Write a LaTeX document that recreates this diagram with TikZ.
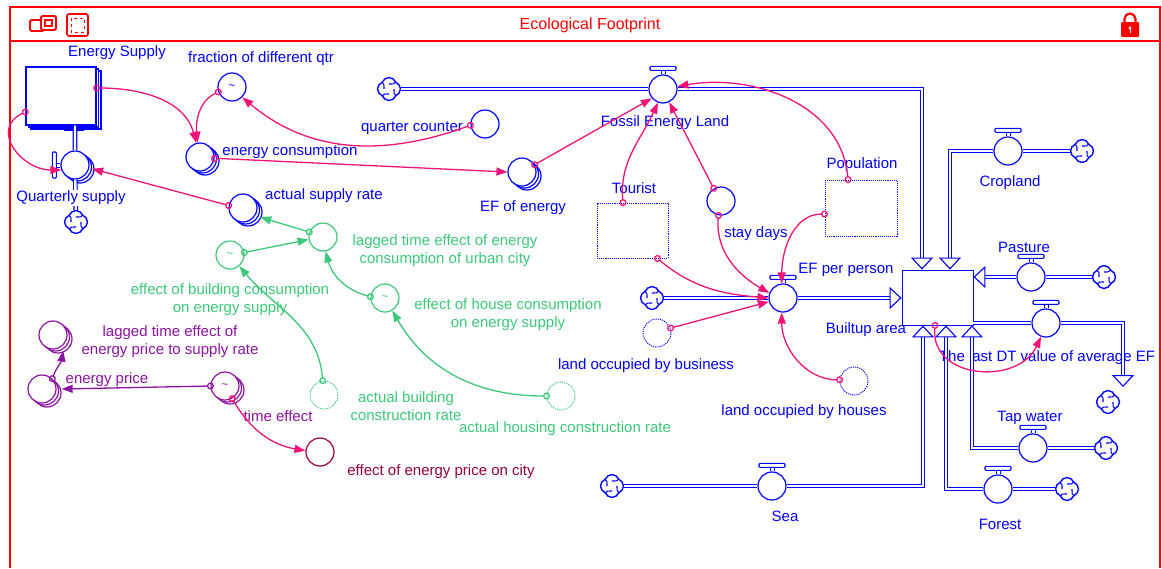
\documentclass[tikz,border=0pt]{standalone}
\usepackage{fontspec}
\setmainfont{Liberation Sans}
\usetikzlibrary{positioning}
\usetikzlibrary{shapes.symbols}
\usetikzlibrary{shadows}
\usetikzlibrary{arrows.meta}

\definecolor{flowblue}{RGB}{0,0,255}
\definecolor{linkpink}{RGB}{240,20,120}
\definecolor{auxgreen}{RGB}{60,200,120}
\definecolor{auxpurple}{RGB}{140,20,160}
\definecolor{auxmaroon}{RGB}{150,0,60}
\definecolor{framered}{RGB}{255,0,0}

\tikzset{
	lbl/.style={font=\fontsize{15}{18}\selectfont, inner sep=0pt, align=center},
	aux/.style={circle, fill=white, line width=1.2pt, minimum size=28pt, inner sep=0pt, font=\large},
	arrayed/.style={double copy shadow={shadow xshift=2.5pt, shadow yshift=-2pt}},
	ghost/.style={densely dotted, line width=0.9pt},
	stock/.style={rectangle, draw=flowblue, fill=white, line width=1.1pt, inner sep=0pt},
	sink/.style={cloud, cloud puffs=4, cloud puff arc=140, aspect=1, draw=flowblue, fill=white,
		line width=1.4pt, minimum width=23pt, minimum height=23pt, inner sep=0pt,
		path picture={\foreach \a in {45,135,225,315}
			\draw[flowblue, line width=1.1pt] ([shift={(\a:11pt)}]path picture bounding box.center)
				to[bend left=35] ([shift={({\a+45}:5pt)}]path picture bounding box.center);}},
	valve/.style={aux, draw=flowblue, append after command={\pgfextra{%
		\draw[flowblue, line width=1pt]
			([xshift=-2pt]\tikzlastnode.north) -- ++(0pt,4pt)
			([xshift=2pt]\tikzlastnode.north) -- ++(0pt,4pt);
		\draw[flowblue, line width=1.1pt, fill=white, rounded corners=1pt]
			([xshift=-13pt,yshift=4pt]\tikzlastnode.north) rectangle ++(26pt,4pt);}}},
	valve left/.style={aux, draw=flowblue, append after command={\pgfextra{%
		\draw[flowblue, line width=1pt]
			([yshift=-2pt]\tikzlastnode.west) -- ++(-4pt,0pt)
			([yshift=2pt]\tikzlastnode.west) -- ++(-4pt,0pt);
		\draw[flowblue, line width=1.1pt, fill=white, rounded corners=1pt]
			([xshift=-8pt,yshift=-13pt]\tikzlastnode.west) rectangle ++(4pt,26pt);}}},
	pipe/.style={draw=flowblue, double=white, double distance=2.4pt, line width=1.1pt},
	pipeend/.style={-{Triangle[open,width=22pt,length=12pt,line width=1.1pt]}},
	link/.style={line width=1.3pt, arrows={Circle[open,length=7pt]-Triangle[length=11pt,width=8pt]}, shorten <=-3.5pt},
	pinklink/.style={link, color=linkpink},
	greenlink/.style={link, color=auxgreen},
	purplelink/.style={link, color=auxpurple}
}

\begin{document}
\begin{tikzpicture}[x=1pt,y=1pt]
	\useasboundingbox (0,0) rectangle (1162,-568);
	% window frame
	\draw[framered, line width=2.2pt] (10,-568) -- (10,-7) -- (1160,-7) -- (1160,-568);
	\draw[framered, line width=2pt] (10,-41) -- (1160,-41);
	\node[text=framered, font=\fontsize{16}{18}\selectfont] (title) at (590,-25) {Ecological Footprint};
	\draw[framered, line width=1.8pt, rounded corners=1.5pt] (30,-20) rectangle (44,-31);
	\draw[framered, line width=1.8pt, rounded corners=1.5pt, fill=white] (41,-16) rectangle (56,-30);
	\draw[framered, line width=1.2pt] (45,-20) rectangle (52,-26);
	\draw[framered, line width=1.6pt, rounded corners=2pt] (67,-14) rectangle (88,-36);
	\draw[framered, line width=1pt, dashed] (71,-18) rectangle (84,-32);
	\fill[framered, rounded corners=1pt] (1121,-22) rectangle (1139,-37);
	\draw[framered, line width=2.2pt] (1124.5,-23) -- (1124.5,-19) arc[start angle=180, end angle=0, radius=5.5pt] -- (1135.5,-23);
	\fill[white] (1130,-28) circle (1.6pt);
	\draw[white, line width=1pt] (1130,-28) -- (1130,-33);

	% stocks
	\node[stock, arrayed, line width=1.4pt, minimum width=70pt, minimum height=58pt] (EnSup) at (61,-96) {};
	\node[stock, line width=0.8pt, minimum width=71pt, minimum height=55pt] (Built) at (937.5,-297.5) {};
	\node[stock, ghost, minimum width=71pt, minimum height=55pt] (Tourist) at (632.5,-230.5) {};
	\node[stock, ghost, minimum width=72pt, minimum height=56pt] (Pop) at (861,-208) {};
	\draw[flowblue, line width=2pt] (64,-130) -- (84,-130);

	% flows
	\node[valve left, arrayed] (QSup) at (75,-165) {};
	\node[valve] (FEL) at (663,-89) {};
	\node[valve] (EFpp) at (783,-298) {};
	\node[valve] (Crop) at (1008,-151) {};
	\node[valve] (Past) at (1031,-277) {};
	\node[valve] (LastDT) at (1046,-323) {};
	\node[valve] (Tap) at (1033,-448) {};
	\node[valve] (Forest) at (998,-489) {};
	\node[valve] (Sea) at (772,-486) {};

	% clouds
	\node[sink] (cQSup) at (76,-222) {};
	\node[sink] (cFEL) at (389,-89) {};
	\node[sink] (cEFpp) at (652,-298) {};
	\node[sink] (cCrop) at (1082,-151) {};
	\node[sink] (cPast) at (1104,-277) {};
	\node[sink] (cLast) at (1108,-402) {};
	\node[sink] (cTap) at (1106,-448) {};
	\node[sink] (cForest) at (1067,-489) {};
	\node[sink] (cSea) at (612,-486) {};
	\coordinate (lastEnd) at (1123,-387);

	% auxiliaries
	\node[aux, draw=flowblue, text=flowblue] (Frac) at (232,-87) {\textasciitilde};
	\node[aux, draw=flowblue, arrayed] (EnCons) at (200,-157) {};
	\node[aux, draw=flowblue] (QCount) at (485,-124) {};
	\node[aux, draw=flowblue, arrayed] (ASR) at (243,-208) {};
	\node[aux, draw=flowblue, arrayed] (EFen) at (522,-172) {};
	\node[aux, draw=flowblue] (Stay) at (721,-201) {};
	\node[aux, draw=flowblue, ghost] (LOB) at (657,-333) {};
	\node[aux, draw=flowblue, ghost] (LOH) at (854,-381) {};
	\node[aux, draw=auxgreen] (LagE) at (323,-237) {};
	\node[aux, draw=auxgreen, text=auxgreen] (EffB) at (230,-255) {\textasciitilde};
	\node[aux, draw=auxgreen, text=auxgreen] (EffH) at (385,-298) {\textasciitilde};
	\node[aux, draw=auxgreen, ghost] (ABCR) at (324,-395) {};
	\node[aux, draw=auxgreen, ghost] (AHCR) at (561,-396) {};
	\node[aux, draw=auxpurple, arrayed] (LagP) at (53,-335) {};
	\node[aux, draw=auxpurple, arrayed] (EPrice) at (42,-389) {};
	\node[aux, draw=auxpurple, arrayed, text=auxpurple] (TEff) at (225,-386) {\textasciitilde};
	\node[aux, draw=auxmaroon] (EffP) at (320,-452) {};

	% labels
	\node[lbl, text=flowblue] (lEnSup) at (117,-53) {Energy Supply};
	\node[lbl, text=flowblue] (lFrac) at (261,-59) {fraction of different qtr};
	\node[lbl, text=flowblue] (lEnCons) at (290,-152) {energy consumption};
	\node[lbl, text=flowblue] (lQCount) at (412,-128) {quarter counter};
	\node[lbl, text=flowblue] (lASR) at (324,-196) {actual supply rate};
	\node[lbl, text=flowblue] (lEFen) at (523,-208) {EF of energy};
	\node[lbl, text=flowblue] (lFEL) at (665,-123) {Fossil Energy Land};
	\node[lbl, text=flowblue] (lTourist) at (634,-188) {Tourist};
	\node[lbl, text=flowblue] (lStay) at (756,-234) {stay days};
	\node[lbl, text=flowblue] (lPop) at (862,-165) {Population};
	\node[lbl, text=flowblue] (lEFpp) at (846,-270) {EF per person};
	\node[lbl, text=flowblue] (lBuilt) at (866,-330) {Builtup area};
	\node[lbl, text=flowblue] (lCrop) at (1010,-183) {Cropland};
	\node[lbl, text=flowblue] (lPast) at (1024,-247) {Pasture};
	\node[lbl, text=flowblue] (lLastDT) at (1047,-358) {The last DT value of average EF};
	\node[lbl, text=flowblue] (lTap) at (1030,-418) {Tap water};
	\node[lbl, text=flowblue] (lForest) at (1000,-524) {Forest};
	\node[lbl, text=flowblue] (lSea) at (785,-516) {Sea};
	\node[lbl, text=flowblue] (lLOB) at (646,-366) {land occupied by business};
	\node[lbl, text=flowblue] (lLOH) at (804,-412) {land occupied by houses};
	\node[lbl, text=auxgreen] (lLagE) at (445,-251) {lagged time effect of energy\\consumption of urban city};
	\node[lbl, text=auxgreen] (lEffB) at (230,-300) {effect of building consumption\\on energy supply};
	\node[lbl, text=auxgreen] (lEffH) at (508,-315) {effect of house consumption\\on energy supply};
	\node[lbl, text=auxgreen] (lABCR) at (406,-406) {actual building\\construction rate};
	\node[lbl, text=auxgreen] (lAHCR) at (565,-429) {actual housing construction rate};
	\node[lbl, text=auxpurple] (lLagP) at (170,-342) {lagged time effect of\\energy price to supply rate};
	\node[lbl, text=auxpurple] (lEPrice) at (107,-380) {energy price};
	\node[lbl, text=auxpurple] (lTEff) at (278,-416) {time effect};
	\node[lbl, text=auxmaroon] (lEffP) at (441,-472) {effect of energy price on city};

	% pipes
	\path[pipe] ([xshift=14pt]EnSup.south) -- (QSup) -- (cQSup);
	\path[pipe, pipeend] (cFEL) -- (FEL) -| ([xshift=-15.5pt]Built.north);
	\path[pipe, pipeend] (cCrop) -- (Crop) -| ([xshift=12.5pt]Built.north);
	\path[pipe, pipeend] (cPast) -- (Past) -- (Built.east |- Past);
	\path[pipe, pipeend] (cEFpp) -- (EFpp) -- (Built.west |- EFpp);
	\path[pipe, pipeend] (Built.east |- LastDT) -- (LastDT) -| (lastEnd);
	\path[pipe, pipeend] (cTap) -- (Tap) -| ([xshift=-1.5pt]Built.south east);
	\path[pipe, pipeend] (cForest) -- (Forest) -| ([xshift=8.5pt]Built.south);
	\path[pipe, pipeend] (cSea) -- (Sea) -| ([xshift=-14.5pt]Built.south);
	\node[lbl, text=flowblue, fill=white, inner sep=1pt] (lQSup) at (71,-198) {Quarterly supply};

	% connectors
	\path[pinklink]
	([yshift=-16pt]EnSup.west)	edge [out=205, in=180, looseness=1.5]	(QSup.200)
	([yshift=8pt]EnSup.east)	edge [out=0, in=105]	(EnCons.105)
	(Frac.200)	edge [out=205, in=95]	(EnCons.100)
	(QCount.185)	edge [out=200, in=-40]	(Frac.-45)
	(EnCons.-5)	edge	(EFen.180)
	(ASR.170)	edge	([xshift=3pt]QSup.-15)
	(EFen.30)	edge	(FEL.220)
	([xshift=-9.5pt]Tourist.north)	edge [out=95, in=245]	(FEL.250)
	(Stay.120)	edge	(FEL.-65)
	([xshift=-13pt]Pop.north)	edge [out=95, in=10]	(FEL.10)
	(Stay.-100)	edge [out=-95, in=150]	(EFpp.160)
	([xshift=-11pt]Tourist.south east)	edge [out=-40, in=175]	(EFpp.180)
	([yshift=-6pt]Pop.west)	edge [out=180, in=90]	(EFpp.95)
	(LOB.20)	edge	(EFpp.195)
	(LOH.175)	edge [out=180, in=-90]	(EFpp.-95)
	([xshift=-2.5pt]Built.south)	edge [out=-95, in=-115, looseness=1.3]	(LastDT.-110)
	(TEff.-60)	edge [out=-60, in=170]	(EffP.175);
	\path[greenlink]
	(LagE.160)	edge	([shift={(4pt,-3pt)}]ASR.-25)
	(EffB.10)	edge	(LagE.190)
	(EffH.175)	edge [out=165, in=-75]	(LagE.-80)
	(ABCR.95)	edge [out=95, in=-50]	(EffB.-50)
	(AHCR.180)	edge [out=180, in=-60]	(EffH.-60);
	\path[purplelink]
	(EPrice.45)	edge [out=70, in=-100]	([shift={(3pt,-3pt)}]LagP.-60)
	(TEff.180)	edge	([xshift=5pt]EPrice.east);
\end{tikzpicture}
\end{document}
